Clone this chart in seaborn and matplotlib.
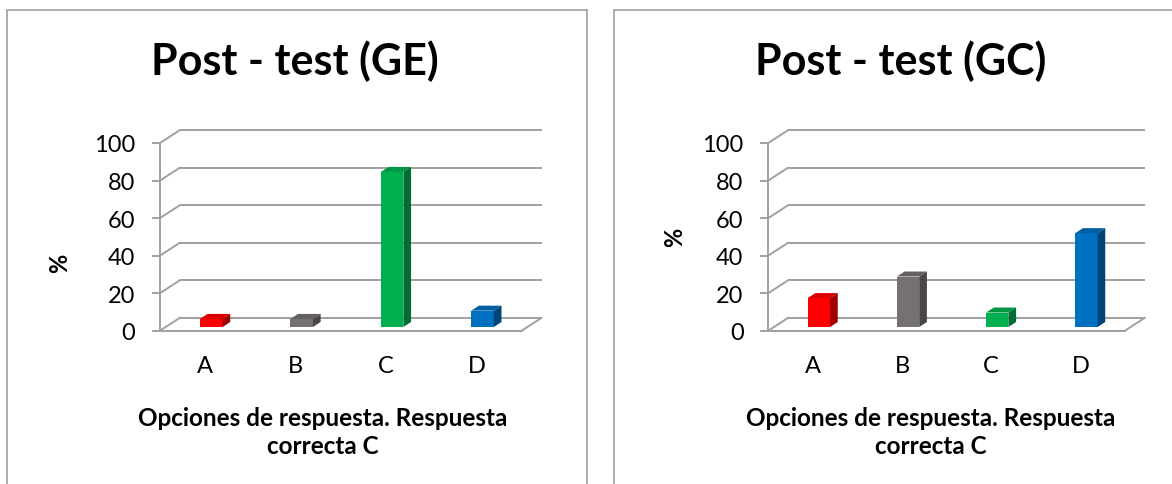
import matplotlib
matplotlib.use("Agg")
import matplotlib.pyplot as plt
import pandas as pd
import seaborn as sns
from matplotlib.transforms import ScaledTranslation
from matplotlib.patches import Polygon, Rectangle
from matplotlib.colors import to_rgb

# Response options and percentage of students choosing each one
opciones = ["A", "B", "C", "D"]
post_ge = [4.3, 4.3, 82.6, 8.7]
post_gc = [15.4, 26.9, 7.7, 50.0]
titulos = ["Post - test (GE)", "Post - test (GC)"]
colores = ["#FF0000", "#767171", "#00B050", "#0070C0"]
marcas_y = [0, 20, 40, 60, 80, 100]
eje_x = "Opciones de respuesta. Respuesta\ncorrecta C"
eje_y = "%"

sns.set_theme(style="white")
plt.rcParams["font.family"] = ["Lato", "DejaVu Sans"]

DPI = 100
W, H = 1172, 485
fig = plt.figure(figsize=(W / DPI, H / DPI), dpi=DPI)
fig.patch.set_facecolor("white")

GRID = "#a0a0a0"
BORDE = "#a6a6a6"
LW = 1.4

# depth of the 3D box and of each bar, in pixels
WALL_DX, WALL_DY = 20, 13
BAR_OFF_DX, BAR_OFF_DY = 6, 3.7
BAR_DX, BAR_DY = 7.7, 5


def shade(c, f):
    return tuple(v * f for v in to_rgb(c))


def panel(front_px, valores, titulo, ylab_xy, title_x, xlab_x):
    left, top, right, bottom = front_px
    ax = fig.add_axes([left / W, 1 - bottom / H, (right - left) / W, (bottom - top) / H])
    ax.set_facecolor("none")
    df = pd.DataFrame({"opcion": opciones, "pct": valores})
    sns.barplot(data=df, x="opcion", y="pct", hue="opcion", palette=colores,
                width=0.25, saturation=1, legend=False, ax=ax)
    ax.set_xlim(-0.5, 3.5)
    ax.set_ylim(0, 100)

    sx = (right - left) / 4.0
    sy = (bottom - top) / 100.0
    bx, by = WALL_DX / sx, WALL_DY / sy

    # back wall gridlines, their diagonals to the front axis, and the floor edge
    for v in marcas_y:
        ax.plot([-0.5 + bx, 3.5 + bx], [v + by, v + by], color=GRID, lw=LW,
                clip_on=False, zorder=0.5, solid_capstyle="butt")
        ax.plot([-0.5, -0.5 + bx], [v, v + by], color=GRID, lw=LW,
                clip_on=False, zorder=0.5)
    ax.plot([3.5, 3.5 + bx], [0, by], color=GRID, lw=LW, clip_on=False, zorder=0.5)

    # extrude the bars into 3D boxes
    off = ax.transData + ScaledTranslation(BAR_OFF_DX / DPI, BAR_OFF_DY / DPI,
                                           fig.dpi_scale_trans)
    ddx, ddy = BAR_DX / sx, BAR_DY / sy
    bars = list(ax.patches)
    for p in bars:
        x = p.get_x()
        w = p.get_width()
        h = p.get_height()
        fc = p.get_facecolor()[:3]
        p.set_transform(off)
        p.set_edgecolor("none")
        p.set_zorder(3)
        p.set_clip_on(False)
        top_face = Polygon([(x, h), (x + w, h), (x + w + ddx, h + ddy), (x + ddx, h + ddy)],
                           closed=True, facecolor=shade(fc, 0.85), edgecolor="none",
                           transform=off, zorder=3, clip_on=False)
        side_face = Polygon([(x + w, 0), (x + w + ddx, ddy), (x + w + ddx, h + ddy), (x + w, h)],
                            closed=True, facecolor=shade(fc, 0.62), edgecolor="none",
                            transform=off, zorder=3, clip_on=False)
        ax.add_patch(top_face)
        ax.add_patch(side_face)

    for s in ["top", "right"]:
        ax.spines[s].set_visible(False)
    for s in ["left", "bottom"]:
        ax.spines[s].set_color(GRID)
        ax.spines[s].set_linewidth(LW)
        ax.spines[s].set_zorder(0.6)

    ax.set_yticks(marcas_y)
    ax.set_yticklabels([str(v) for v in marcas_y])
    ax.tick_params(axis="y", length=5.8, width=LW, color=GRID, pad=12,
                   labelsize=17, labelcolor="black", left=True)
    ax.tick_params(axis="x", length=0, pad=17.5, labelsize=17, labelcolor="black")

    ax.set_ylabel(eje_y, fontsize=17, fontweight="bold", color="black")
    ax.yaxis.set_label_coords(*ylab_xy)
    ax.yaxis.label.set_va("center")

    ax.set_xlabel(eje_x, fontsize=17.5, fontweight="bold", color="black", linespacing=1.26)
    ax.xaxis.set_label_coords(xlab_x, -0.40)
    ax.xaxis.label.set_va("top")

    ax.set_title(titulo, fontsize=31, fontweight="bold", color="black",
                 x=title_x, y=1.368, pad=0)
    return ax


panel((160, 144, 521.7, 331.7), post_ge, titulos[0], (-0.2765, 0.366), 0.373, 0.449)
panel((768.3, 144, 1125, 331.7), post_gc, titulos[1], (-0.2616, 0.5045), 0.372, 0.456)

# outer chart borders
for x0, x1 in [(7, 587), (614, 1200)]:
    fig.add_artist(Rectangle((x0 / W, -0.05), (x1 - x0) / W, 1 - 11 / H + 0.05,
                             transform=fig.transFigure, facecolor="none",
                             edgecolor=BORDE, lw=1.3))

fig.savefig("out.png", dpi=DPI, facecolor="white")
